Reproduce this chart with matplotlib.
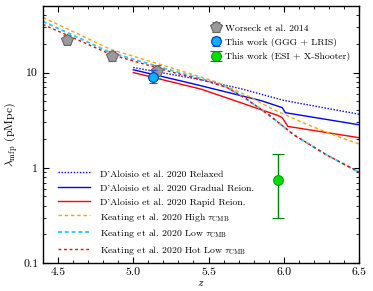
import matplotlib
matplotlib.use("Agg")
import matplotlib.pyplot as plt
import numpy as np

plt.rcParams['font.family'] = ['cmr10', 'DejaVu Serif']
plt.rcParams['mathtext.fontset'] = 'cm'
plt.rcParams['axes.unicode_minus'] = False
plt.rcParams['axes.formatter.use_mathtext'] = True

# ---------------- data ----------------
# Worseck et al. 2014
w_z = [4.56, 4.86, 5.16]
w_l = [22.2, 15.1, 10.3]
w_e = [2.3, 1.8, 1.6]

# This work (GGG + LRIS)
g_z = [5.13]
g_l = [9.09]
g_lo = [1.28]
g_hi = [1.62]

# This work (ESI + X-Shooter)
e_z = [5.96]
e_l = [0.75]
e_lo = [0.45]
e_hi = [0.65]

# D'Aloisio et al. 2020
rel_z = [5.0, 5.45, 5.71, 6.0, 6.5]
rel_l = [11.3, 8.4, 6.8, 5.1, 3.65]
grad_z = [5.0, 5.4, 5.85, 5.99, 6.01, 6.5]
grad_l = [10.7, 7.6, 5.07, 4.28, 3.79, 2.83]
rap_z = [5.0, 5.45, 5.71, 5.85, 5.96, 5.99, 6.01, 6.027, 6.5]
rap_l = [10.0, 6.7, 4.85, 4.07, 3.55, 3.35, 3.0, 2.72, 2.07]

# Keating et al. 2020
kh_z = [4.4, 4.85, 5.23, 5.55, 5.75, 5.93, 6.16, 6.38, 6.5]
kh_l = [37.9, 17.5, 11.5, 8.0, 5.8, 4.1, 2.83, 2.07, 1.78]
kl_z = [4.4, 4.85, 5.23, 5.5, 5.62, 5.75, 5.9, 6.07, 6.29, 6.5]
kl_l = [34.4, 16.2, 10.8, 8.2, 7.0, 5.3, 3.6, 2.2, 1.35, 0.9]
khl_z = [4.4, 4.85, 5.23, 5.5, 5.62, 5.75, 5.9, 6.07, 6.29, 6.5]
khl_l = [32.0, 15.5, 10.4, 8.0, 7.0, 5.3, 3.6, 2.2, 1.35, 0.9]

fig = plt.figure(figsize=(3.73, 2.91), dpi=100)
ax = fig.add_axes([0.1153, 0.0962, 0.8472, 0.8832])

lw = 1.0
l1, = ax.plot(rel_z, rel_l, color='blue', ls=(0, (1, 1.2)), lw=lw,
              label="D'Aloisio et al. 2020 Relaxed")
l2, = ax.plot(grad_z, grad_l, color='blue', ls='-', lw=lw,
              label="D'Aloisio et al. 2020 Gradual Reion.")
l3, = ax.plot(rap_z, rap_l, color='red', ls='-', lw=lw,
              label="D'Aloisio et al. 2020 Rapid Reion.")
l4, = ax.plot(kh_z, kh_l, color='orange', ls=(0, (2.5, 2)), lw=lw,
              label=r"Keating et al. 2020 High $\tau_{\rm CMB}$")
l5, = ax.plot(kl_z, kl_l, color='#33ccff', ls=(0, (2, 1.5)), lw=lw * 1.4,
              label=r"Keating et al. 2020 Low $\tau_{\rm CMB}$")
l6, = ax.plot(khl_z, khl_l, color='red', ls=(0, (2, 2)), lw=lw,
              label=r"Keating et al. 2020 Hot Low $\tau_{\rm CMB}$")

p1 = ax.errorbar(w_z, w_l, yerr=w_e, fmt='p', ms=8.5, mfc='#999999', mec='#666666',
                 ecolor='#777777', elinewidth=1, capsize=3, mew=0.8, zorder=5,
                 label='Worseck et al. 2014')
p2 = ax.errorbar(g_z, g_l, yerr=[g_lo, g_hi], fmt='o', ms=7, mfc='#00b4ff', mec='#1030c0',
                 ecolor='#3050d0', elinewidth=1, capsize=3, mew=0.8, zorder=6,
                 label='This work (GGG + LRIS)')
p3 = ax.errorbar(e_z, e_l, yerr=[e_lo, e_hi], fmt='o', ms=7, mfc='#00e000', mec='#00a000',
                 ecolor='green', elinewidth=1, capsize=4, mew=0.8, zorder=6,
                 label='This work (ESI + X-Shooter)')
p3[1][0].set_color('#90d090')
p3[1][1].set_color('#90d090')

ax.set_yscale('log')
ax.set_xlim(4.4, 6.5)
ax.set_ylim(0.1, 50)
ax.set_yticks([0.1, 1, 10])
ax.set_yticklabels(['0.1', '1', '10'])
ax.set_xticks([4.5, 5.0, 5.5, 6.0, 6.5])
ax.set_xticklabels(['4.5', '5.0', '5.5', '6.0', '6.5'])
ax.xaxis.set_minor_locator(matplotlib.ticker.MultipleLocator(0.1))
ax.tick_params(which='both', direction='in', top=True, right=True, labelsize=8.5)
ax.tick_params(which='major', length=4, width=0.8)
ax.tick_params(which='minor', length=2, width=0.6)
for s in ax.spines.values():
    s.set_linewidth(1.0)

ax.set_xlabel(r'$z$', fontsize=8.5, labelpad=1)
ax.set_ylabel(r'$\lambda_{\rm mfp}$ (pMpc)', fontsize=8.5, labelpad=2)

leg1 = ax.legend(handles=[l1, l2, l3, l4, l5, l6], loc='lower left',
                 bbox_to_anchor=(0.025, -0.003), frameon=False, fontsize=7,
                 handlelength=3.3, handletextpad=1.0, labelspacing=0.37,
                 handleheight=1.3, borderpad=0.2)
ax.add_artist(leg1)
ax.legend(handles=[p1, p2, p3], loc='upper right', bbox_to_anchor=(1.0, 0.965),
          frameon=False, fontsize=7, handletextpad=0.3, labelspacing=0.55,
          handlelength=1.2)

fig.savefig('out.png', dpi=100)
